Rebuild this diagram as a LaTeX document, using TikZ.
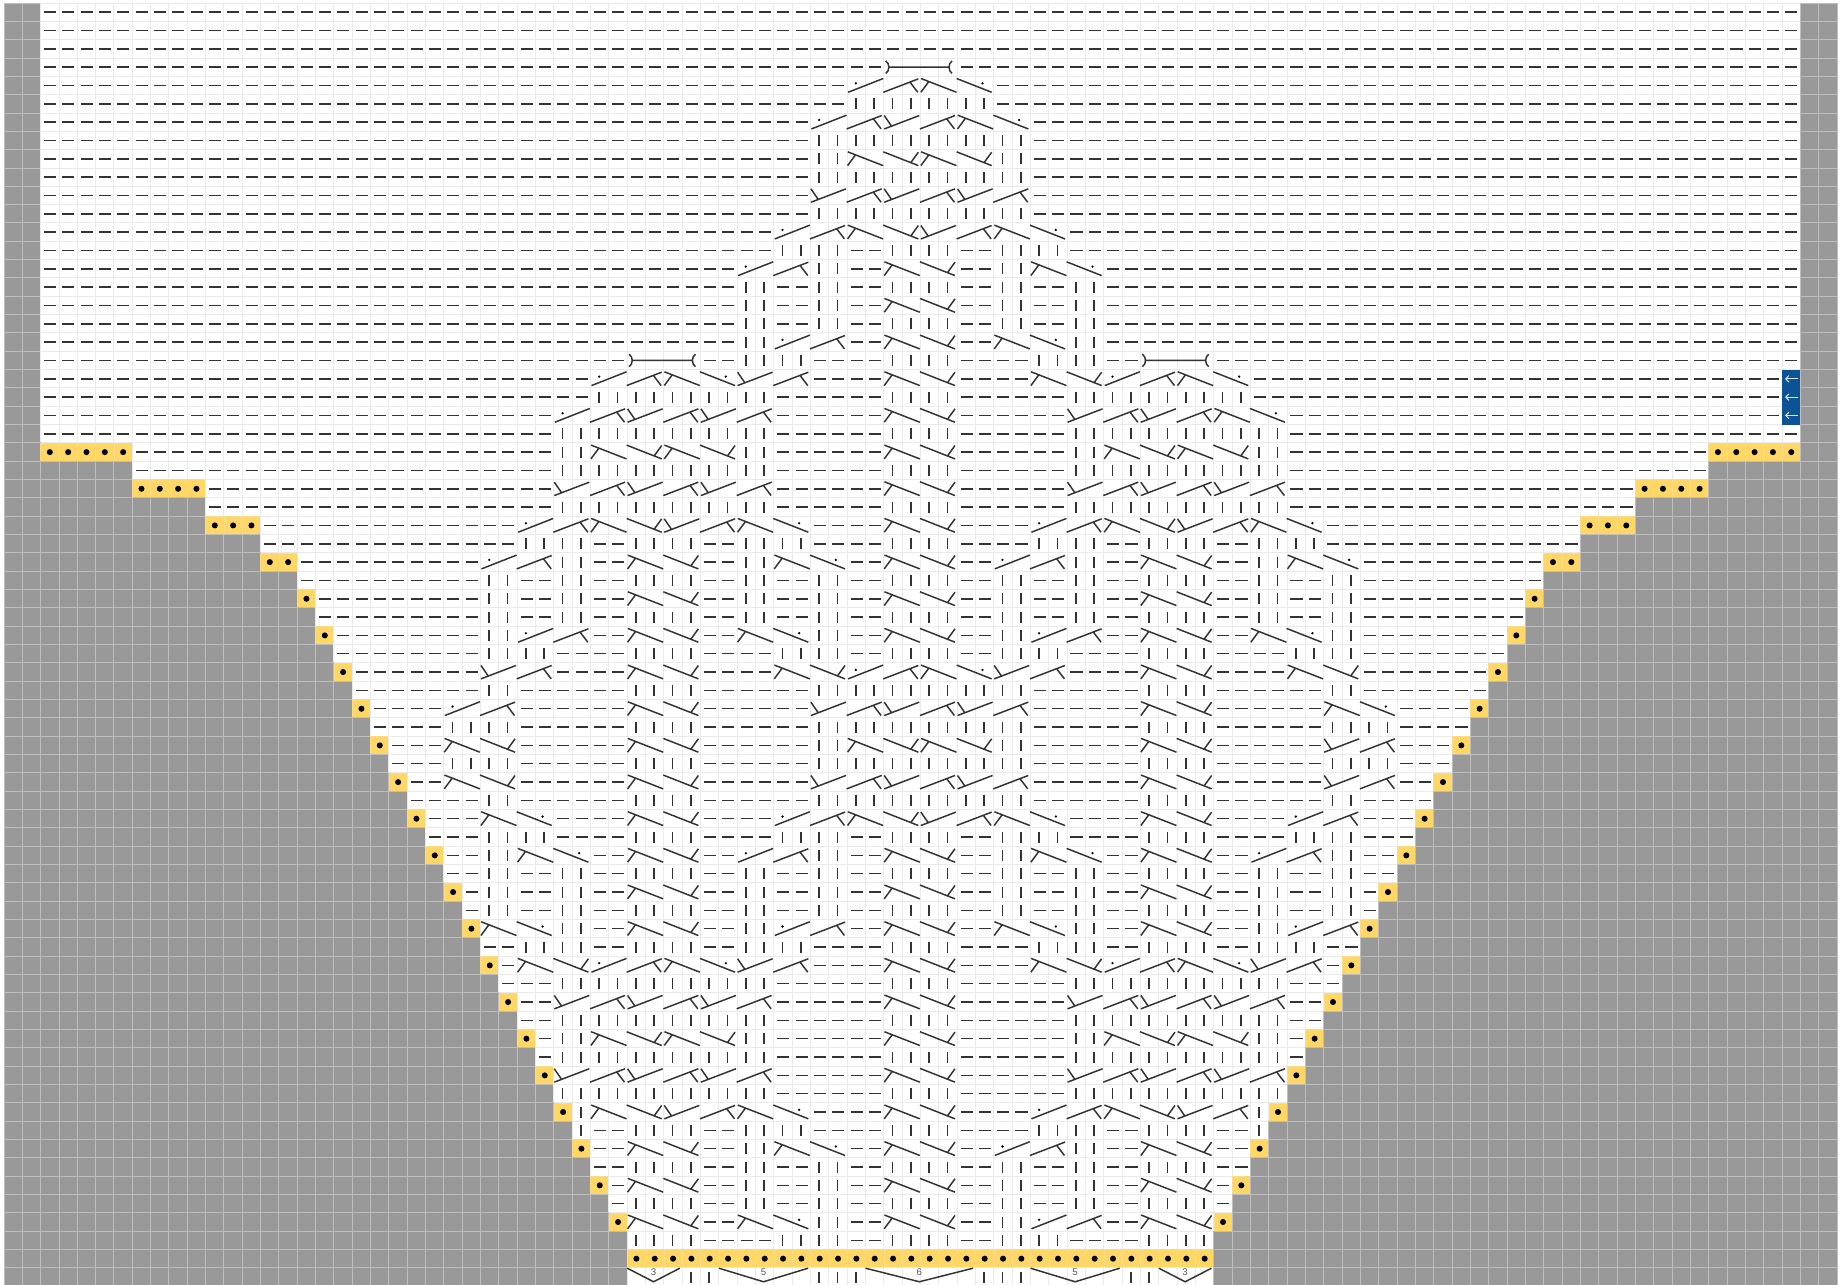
\documentclass[tikz,border=0pt]{standalone}
\usepackage{fontspec}
\newfontfamily\chartsans{Liberation Sans}
\usetikzlibrary{arrows.meta}
\definecolor{cellgray}{HTML}{999999}
\definecolor{cellline}{HTML}{EAEAEA}
\definecolor{grayline}{HTML}{BEBEBE}
\definecolor{yarnyellow}{HTML}{FFD766}
\definecolor{yellowline}{HTML}{F9DC88}
\definecolor{repeatblue}{HTML}{0B5394}
\definecolor{arrowpale}{HTML}{DCE6F1}
\definecolor{labelgray}{HTML}{555555}
\tikzset{
  graycell/.style={fill=cellgray,draw=grayline,line width=1.5pt},
  whitecell/.style={fill=white,draw=cellline,line width=1.5pt},
  yellowcell/.style={fill=yarnyellow,draw=yellowline,line width=1pt},
  stitch/.style={draw=black!80,line width=2.3pt},
  atcell/.style={xshift=\the\stitchc cm,yshift=-\rw cm},
  declabel/.style={font=\chartsans\fontsize{15}{15}\selectfont,text=labelgray,inner sep=0pt}
}
% one macro per chart symbol, each moves the column counter on
\newcount\stitchc
\def\stn{}
\def\stp{\draw[stitch,atcell] (.18,.5) -- (.84,.5); \advance\stitchc by 1\relax}
\def\stk{\draw[stitch,atcell] (.47,.2) -- (.47,.8); \advance\stitchc by 1\relax}
\def\stA{\draw[stitch,atcell] (-.03,.87) -- (1.88,.14) (1.42,.31) -- (1.85,.87); \advance\stitchc by 2\relax}
\def\stB{\draw[stitch,atcell] (.03,.12) -- (1.96,.87) (.44,.3) -- (.02,.87); \advance\stitchc by 2\relax}
\def\stC{\draw[stitch,atcell] (.02,.87) -- (1.93,.14) (.02,.14) -- (.42,.72); \advance\stitchc by 2\relax}
\def\stD{\draw[stitch,atcell] (-.03,.12) -- (1.88,.87) (1.88,.14) -- (1.46,.72); \advance\stitchc by 2\relax}
\def\stE{\draw[stitch,atcell] (.05,.87) -- (1.96,.12); \fill[black,atcell] (.47,.38) circle (.07); \advance\stitchc by 2\relax}
\def\stF{\draw[stitch,atcell] (-.03,.12) -- (1.88,.87); \fill[black,atcell] (1.38,.38) circle (.07); \advance\stitchc by 2\relax}
\def\stH{\draw[stitch,atcell] (.3,.5) -- (3.56,.5)
  (.1,.16) .. controls (.33,.3) and (.33,.7) .. (.1,.84)
  (3.72,.16) .. controls (3.5,.3) and (3.5,.7) .. (3.72,.84); \advance\stitchc by 4\relax}
\def\stdec#1#2{\pgfmathsetmacro\decend{#1-.13}\pgfmathsetmacro\decmid{\decend/2}%
  \draw[stitch,atcell] (0,.02) -- (\decmid,.76) -- (\decend,.02);
  \node[declabel,atcell] (dec\the\stitchc) at (\decmid,.22) {#2};
  \advance\stitchc by #1\relax}
\def\stt{\stdec{3}{3}}
\def\stu{\stdec{5}{5}}
\def\stx{\stdec{6}{6}}
\def\stitchrow#1{\ifx#1Z\else\csname st#1\endcsname\expandafter\stitchrow\fi}
% row / gray columns / yellow cells / first charted column / symbols
\def\chartrows{0/2/0/50/n,1/2/0/50/n,2/2/0/50/n,
  3/2/0/48/H,
  4/2/0/46/EABF,
  5/2/0/46/kkkkkkkk,
  6/2/0/44/EACABF,
  7/2/0/44/kkkkkkkkkkkk,
  8/2/0/44/kkBDBDkk,
  9/2/0/44/kkkkkkkkkkkk,
  10/2/0/44/CACACA,
  11/2/0/44/kkkkkkkkkkkk,
  12/2/0/42/EABDCABF,
  13/2/0/42/kkkkppkkkkppkkkk,
  14/2/0/40/EAkkppBDppkkBF,
  15/2/0/40/kkppkkppkkkkppkkppkk,
  16/2/0/40/kkppkkppBDppkkppkk,
  17/2/0/40/kkppkkppkkkkppkkppkk,
  18/2/0/40/kkEAppBDppBFkk,
  19/2/0/34/HppkkkkppppkkkkppppkkkkppH,
  20/2/0/32/EABFCAppppBDppppBDEABF,
  21/2/0/32/kkkkkkkkkkppppppkkkkppppppkkkkkkkkkk,
  22/2/0/30/EACACAppppppBDppppppCACABF,
  23/2/0/30/kkkkkkkkkkkkppppppkkkkppppppkkkkkkkkkkkk,
  24/2/5/30/kkBDBDkkppppppBDppppppkkBDBDkk,
  25/7/0/30/kkkkkkkkkkkkppppppkkkkppppppkkkkkkkkkkkk,
  26/7/4/30/CACACAppppppBDppppppCACACA,
  27/11/0/30/kkkkkkkkkkkkppppppkkkkppppppkkkkkkkkkkkk,
  28/11/3/28/EABDCABFppppBDppppEABDCABF,
  29/14/0/28/kkkkppkkkkppkkkkppppkkkkppppkkkkppkkkkppkkkk,
  30/14/2/26/EAkkppBDppkkBFppBDppEAkkppBDppkkBF,
  31/16/0/26/kkppkkppkkkkppkkppkkppkkkkppkkppkkppkkkkppkkppkk,
  32/16/1/26/kkppkkppBDppkkppkkppBDppkkppkkppBDppkkppkk,
  33/17/0/26/kkppkkppkkkkppkkppkkppkkkkppkkppkkppkkkkppkkppkk,
  34/17/1/26/kkEAppBDppBFkkppBDppkkEAppBDppBFkk,
  35/18/0/26/kkkkppppkkkkppppkkkkppkkkkppkkkkppppkkkkppppkkkk,
  36/18/1/26/CAppppBDppppBDEABFCAppppBDppppBD,
  37/19/0/26/kkppppppkkkkppppppkkkkkkkkkkkkppppppkkkkppppppkk,
  38/19/1/24/EAppppppBDppppppCACACAppppppBDppppppBF,
  39/20/0/24/kkkkppppppkkkkppppppkkkkkkkkkkkkppppppkkkkppppppkkkk,
  40/20/1/24/BDppppppBDppppppkkBDBDkkppppppBDppppppCA,
  41/21/0/24/kkkkppppppkkkkppppppkkkkkkkkkkkkppppppkkkkppppppkkkk,
  42/21/1/24/BDppppppBDppppppCACACAppppppBDppppppCA,
  43/22/0/26/kkppppppkkkkppppppkkkkkkkkkkkkppppppkkkkppppppkk,
  44/22/1/26/BFppppBDppppEABDCABFppppBDppppEA,
  45/23/0/26/kkkkppppkkkkppppkkkkppkkkkppkkkkppppkkkkppppkkkk,
  46/23/1/26/kkBFppBDppEAkkppBDppkkBFppBDppEAkk,
  47/24/0/26/kkppkkppkkkkppkkppkkppkkkkppkkppkkppkkkkppkkppkk,
  48/24/1/26/kkppkkppBDppkkppkkppBDppkkppkkppBDppkkppkk,
  49/25/0/26/kkppkkppkkkkppkkppkkppkkkkppkkppkkppkkkkppkkppkk,
  50/25/1/26/BFkkppBDppkkEAppBDppBFkkppBDppkkEA,
  51/26/0/28/kkkkppkkkkppkkkkppppkkkkppppkkkkppkkkkppkkkk,
  52/26/1/28/BDEABFCAppppBDppppBDEABFCA,
  53/27/0/30/kkkkkkkkkkkkppppppkkkkppppppkkkkkkkkkkkk,
  54/27/1/30/CACACAppppppBDppppppCACACA,
  55/28/0/30/kkkkkkkkkkkkppppppkkkkppppppkkkkkkkkkkkk,
  56/28/1/30/kkBDBDkkppppppBDppppppkkBDBDkk,
  57/29/0/30/kkkkkkkkkkkkppppppkkkkppppppkkkkkkkkkkkk,
  58/29/1/30/CACACAppppppBDppppppCACACA,
  59/30/0/30/kkkkkkkkkkkkppppppkkkkppppppkkkkkkkkkkkk,
  60/30/1/31/kBDCABFppppBDppppEABDCAk,
  61/31/0/31/kppkkkkppkkkkppppkkkkppppkkkkppkkkkppk,
  62/31/1/34/BDppkkBFppBDppEAkkppBD,
  63/32/0/34/kkkkppkkppkkppkkkkppkkppkkppkkkk,
  64/32/1/34/BDppkkppkkppBDppkkppkkppBD,
  65/33/0/34/kkkkppkkppkkppkkkkppkkppkkppkkkk,
  66/33/1/34/BDppBFkkppBDppkkEAppBD,
  67/34/0/34/kkkkppppkkkkppkkkkppkkkkppppkkkk,
  68/34/32/50/n,
  69/34/0/34/tkkukkkxkkkukkt}
\begin{document}
\begin{tikzpicture}[x=1cm,y=-1cm]
  \useasboundingbox (-.218,-.164) rectangle (100.16,69.89);
  \fill[white] (-.218,-.164) rectangle (100.16,69.89);
  % CELLS: gray outside the shaping, yellow along its edge
  \foreach \rw/\lft/\yel/\st/\pat in \chartrows {
    \pgfmathtruncatemacro\lo{\lft+\yel}
    \pgfmathtruncatemacro\hi{99-\lft-\yel}
    \pgfmathtruncatemacro\rgt{99-\lft}
    \foreach \cl in {0,...,99} {
      \ifnum\cl<\lft
        \draw[graycell] (\cl,\rw) rectangle +(1,1);
      \else\ifnum\cl>\rgt
        \draw[graycell] (\cl,\rw) rectangle +(1,1);
      \else\ifnum\cl<\lo
        \draw[yellowcell] (\cl,\rw) rectangle +(1,1);
        \fill[black] (\cl+.5,\rw+.5) circle (.165);
      \else\ifnum\cl>\hi
        \draw[yellowcell] (\cl,\rw) rectangle +(1,1);
        \fill[black] (\cl+.5,\rw+.5) circle (.165);
      \else
        \draw[whitecell] (\cl,\rw) rectangle +(1,1);
      \fi\fi\fi\fi
    }
  }
  % SYMBOLS: charted part of the row, purl on both sides of it
  \foreach \rw/\lft/\yel/\st/\pat in \chartrows {
    \pgfmathtruncatemacro\lo{\lft+\yel}
    \pgfmathtruncatemacro\hi{99-\lft-\yel}
    \edef\patx{\pat}
    \stitchc=\st\relax
    \expandafter\stitchrow\patx Z
    \edef\endc{\the\stitchc}
    \foreach \cl in {0,...,99} {
      \stitchc=\cl\relax
      \ifnum\cl<\lo\else\ifnum\cl<\st \stp\fi\fi
      \ifnum\cl<\endc\else\ifnum\cl>\hi\else \stp\fi\fi
    }
  }
  % REPEAT: three blue cells at the right
  \foreach \rw in {20,21,22} {
    \fill[repeatblue] (97,\rw) rectangle +(1,1);
    \draw[arrowpale,line width=1.5pt,-{Straight Barb[length=5pt,width=10pt]}] (97.87,\rw+.5) -- (97.16,\rw+.5);
  }
\end{tikzpicture}
\end{document}
